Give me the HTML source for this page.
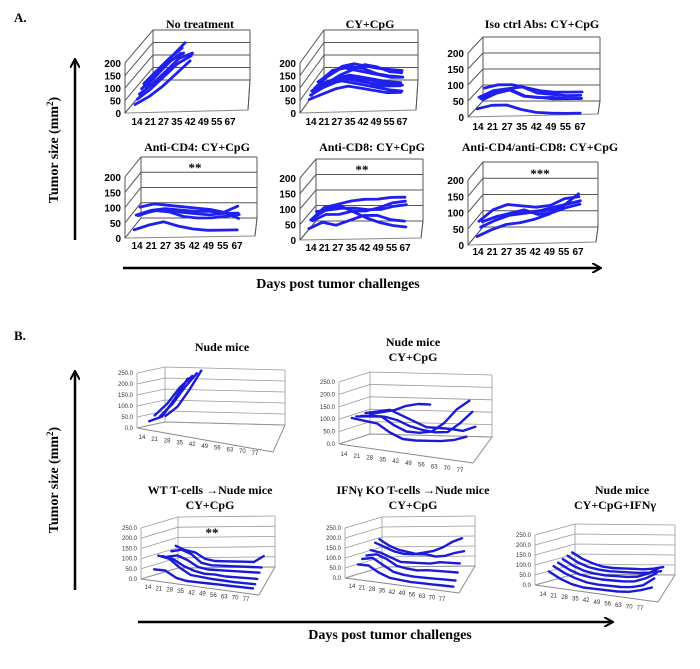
<!DOCTYPE html>
<html><head><meta charset="utf-8">
<style>
html,body{margin:0;padding:0;background:#fff;}
svg{display:block;}
.t{font-family:"Liberation Serif",serif;font-weight:bold;fill:#000;}
.ta{font-family:"Liberation Sans",sans-serif;font-weight:bold;fill:#000;font-size:10px;}
.tb{font-family:"Liberation Sans",sans-serif;fill:#333;font-size:6px;}
</style></head>
<body>
<svg id="fig" width="700" height="669" viewBox="0 0 700 669" xmlns="http://www.w3.org/2000/svg">
<defs><marker id="arr" markerWidth="10" markerHeight="10" refX="8" refY="5" orient="auto" markerUnits="userSpaceOnUse"><path d="M0,0 L9,5 L0,10" fill="none" stroke="#000" stroke-width="2"/></marker></defs>
<text class="t" x="14" y="22" font-size="13">A.</text>
<text class="t" x="14" y="340" font-size="13">B.</text>
<line x1="75" y1="240" x2="75" y2="60" stroke="#000" stroke-width="2.5" marker-end="url(#arr)"/>
<text class="t" font-size="14" transform="translate(58,150) rotate(-90)" text-anchor="middle">Tumor  size (mm<tspan font-size="9" dy="-5">2</tspan><tspan dy="5">)</tspan></text>
<line x1="123" y1="268" x2="600" y2="268" stroke="#000" stroke-width="2.5" marker-end="url(#arr)"/>
<text class="t" x="338" y="288" font-size="14" text-anchor="middle">Days post tumor  challenges</text>
<line x1="75" y1="590" x2="75" y2="372" stroke="#000" stroke-width="2.5" marker-end="url(#arr)"/>
<text class="t" font-size="14" transform="translate(58,480) rotate(-90)" text-anchor="middle">Tumor  size (mm<tspan font-size="9" dy="-5">2</tspan><tspan dy="5">)</tspan></text>
<line x1="138" y1="622" x2="612" y2="622" stroke="#000" stroke-width="2.5" marker-end="url(#arr)"/>
<text class="t" x="390" y="639" font-size="14" text-anchor="middle">Days post tumor  challenges</text>
</svg>
<script>
// ---- data ----
const daysA = ["14","21","27","35","42","49","55","67"];
const ticksA = [0,50,100,150,200];
const daysB = ["14","21","28","35","42","49","56","63","70","77"];
const ticksB = ["0.0","50.0","100.0","150.0","200.0","250.0"];
const tickValsB = [0,50,100,150,200,250];

const noTreatment = [[20,50,90,140,190],[30,70,120,170,200],[40,80,130,180,200],[50,100,150,190],[60,110,160,200],[35,90,140,170],[45,95,150,200]];
const cyCpg = [[40,60,80,90,80,70,60,60],[50,80,100,110,100,90,80,80],[60,90,110,120,110,100,90,85],[45,70,90,100,90,70,50,40],[55,100,130,140,130,110,100,95],[40,70,100,120,140,130,110,105],[50,60,70,60,50,40,30,25],[60,90,120,130,120,110,105,100],[45,55,65,70,60,50,40,35],[50,90,100,90,80,70,60,60]];
const isoCtrl = [[20,30,30,15,5,2,0,0],[50,70,75,80,60,55,50,50],[40,60,65,45,40,40,35,35],[30,50,60,40,35,30,30,30],[60,70,70,60,50,45,45,45]];
const antiCd4 = [[20,35,45,30,20,15,15,15],[60,75,80,75,70,70,65,85],[50,65,70,60,55,50,55,55],[70,80,75,70,65,60,50,30],[40,50,45,30,25,25,30,35]];
const antiCd8 = [[30,50,40,55,70,70,55,50],[50,90,100,110,115,115,120,120],[40,60,60,70,70,80,95,100],[45,70,80,60,40,25,15,10],[55,60,65,65,60,60,70,75]];
const antiCd4Cd8 = [[20,40,55,60,70,85,110,145],[60,95,110,105,100,105,125,130],[35,55,70,75,80,85,100,110],[45,60,70,80,65,70,85,95],[40,55,60,65,70,80,90,100]];

const nude = [[30,60,150,250],[50,110,190,250],[40,100,180,250],[35,80,160,250]];
const nudeCy = [[100,95,90,60,40,40,45,50,60,80],[100,105,110,80,60,60,70,110,170,210],[95,100,100,90,70,60,55,60,100,150],[100,110,120,100,80,60,60,60,55,75],[90,100,110,130,140,140]];
const wtT = [[40,40,10,0,0,0,0,0,0,0],[100,90,50,20,15,10,8,5,5,5],[90,80,50,30,20,20,15,15,15,15],[80,90,70,40,30,30,30,30,30,30],[100,110,90,50,40,40,40,40,40,40],[120,100,90,60,50,50,50,50,50,80]];
const koT = [[60,60,30,10,5,0,0,0,0,0],[80,90,60,30,20,15,15,15,15,15],[90,100,80,50,40,35,40,40,40,40],[110,100,80,60,60,60,60,70,70,70],[140,120,100,90,90,100,110,130,160,180],[150,120,100,90,80,80,70,75,90,100]];
const nudeIfn = [[60,30,10,0,0,0,0,5,20,40],[80,50,30,15,10,10,10,15,30,70],[90,60,40,30,25,25,25,30,50,80],[100,70,50,40,35,35,35,40,60,90],[110,80,60,50,45,45,45,45,50,60],[120,90,70,55,50,50,50,50,55,65]];

const svg = document.getElementById('fig');
const NS = 'http://www.w3.org/2000/svg';
function mk(tag, attrs, parent){
  const e = document.createElementNS(NS, tag);
  for (const k in attrs) e.setAttribute(k, attrs[k]);
  (parent||svg).appendChild(e);
  return e;
}
function txt(x,y,s,cls,anchor,size,parent){
  const e = mk('text',{x:x,y:y,class:cls,'text-anchor':anchor||'middle'},parent);
  if(size) e.setAttribute('font-size',size);
  e.textContent = s;
  return e;
}
const pt = p => p[0].toFixed(1)+','+p[1].toFixed(1);
const lerp=(a,b,t)=>[a[0]+(b[0]-a[0])*t,a[1]+(b[1]-a[1])*t];

function panel(c, series, days, tickVals, tickLabels, name, opts){
  const g = mk('g',{});
  
  
  const top = tickVals[tickVals.length-1];
  const up = (p,v)=>[p[0],p[1]-v*c.sc];
  const wall = mk('path',{d:'M'+pt(c.F0)+' L'+pt(c.B0)+' L'+pt(c.R0)+' L'+pt(c.FR)+' Z',fill:'#fff',stroke:'#888','stroke-width':1},g);
  
  
  const gm = c.gridMax||top;
  const gv = tickVals.concat(gm>top?[gm]:[]);
  gv.forEach((v,i)=>{
    const gl = mk('polyline',{points:pt(up(c.F0,v))+' '+pt(up(c.B0,v))+' '+pt(up(c.R0,v)),fill:'none',stroke:opts.grid,'stroke-width':opts.gw},g);
    
    
  });
  const ax = mk('line',{x1:c.F0[0],y1:c.F0[1],x2:c.F0[0],y2:up(c.F0,gm)[1],stroke:opts.grid,'stroke-width':opts.gw},g);
  
  
  const bl = mk('line',{x1:c.B0[0],y1:c.B0[1],x2:c.B0[0],y2:up(c.B0,gm)[1],stroke:opts.grid,'stroke-width':opts.gw},g);
  
  
  const rr = mk('polyline',{points:pt(up(c.R0,gm))+' '+pt(c.R0)+' '+pt(c.FR),fill:'none',stroke:opts.grid,'stroke-width':opts.gw},g);
  
  
  tickVals.forEach((v,i)=>{
    const p = up(c.F0,v);
    const tl = txt(p[0]-4,p[1]+opts.ty,tickLabels[i],opts.cls,'end',null,g);
    
    
  });
  const n = days.length;
  days.forEach((d,i)=>{
    const p = lerp(c.L0,c.L1,i/(n-1));
    const xl = txt(p[0],p[1],d,opts.cls,'middle',null,g);
    
    
  });
  const m = series.length;
  series.forEach((s,k)=>{
    const d = c.d0 + (c.d1-c.d0)*(m>1?k/(m-1):0);
    const pts = s.map((v,i)=>{
      const t = c.t0 + (c.t1-c.t0)*i/(n-1);
      const base = lerp(lerp(c.F0,c.FR,t), lerp(c.B0,c.R0,t), d);
      return up(base, Math.min(v,top));
    });
    const pl = mk('polyline',{points:pts.map(pt).join(' '),fill:'none',stroke:opts.line,'stroke-width':opts.lw,'stroke-linejoin':'round','stroke-linecap':'round'},g);
    
    
  });
}
const optA = {grid:'#555',gw:1,cls:'ta',ty:4,line:'#1f1ff0',lw:2.8};
const optB = {grid:'#999',gw:0.8,cls:'tb',ty:2,line:'#1a1ad8',lw:2.4};

function A(fx,fy0,fy200,dx,dy,rx,frx,fry,lab0,lab1){
  const sc=(fy0-fy200)/200;
  return {F0:[fx,fy0],FR:[frx,fry],B0:[fx+dx,fy0+dy],R0:[rx,fy0+dy],sc:sc,L0:lab0,L1:lab1,t0:0.06,t1:0.86,d0:0.1,d1:0.6};
}
panel(A(125,113,63,28,-33,250,248,110,[137,125],[230,125]), noTreatment, daysA, ticksA, ticksA.map(String), 'chart-no-treatment', optA);
panel(A(300,113,63,24,-33,418,416,110,[311,125],[402,125]), cyCpg, daysA, ticksA, ticksA.map(String), 'chart-cy-cpg', optA);
panel(A(468,117,53,15,-16,600,598,114,[478,130],[580,130]), isoCtrl, daysA, ticksA, ticksA.map(String), 'chart-iso-ctrl', optA);
panel(A(125,238,177,16,-20,257,255,236,[137,249],[237,249]), antiCd4, daysA, ticksA, ticksA.map(String), 'chart-anti-cd4', optA);
panel(A(300,240,178,16,-19,423,421,238,[311,251],[405,251]), antiCd8, daysA, ticksA, ticksA.map(String), 'chart-anti-cd8', optA);
panel(A(468,245,180,15,-18,598,596,242,[478,255],[578,255]), antiCd4Cd8, daysA, ticksA, ticksA.map(String), 'chart-anti-cd4-cd8', optA);

function B(F0,y250,B0,R0,FR,L0,L1){
  return {F0:F0,FR:FR,B0:B0,R0:R0,sc:(F0[1]-y250)/250,L0:L0,L1:L1,t0:0.05,t1:0.92,d0:0.2,d1:0.8};
}
panel(B([137,428],373,[165,422],[285,425],[273,452],[142,439],[255,455]), nude, daysB, tickValsB, ticksB, 'chart-nude-mice', optB);
panel(B([339,444],382,[370,434],[492,437],[473,463],[344,456],[460,472]), nudeCy, daysB, tickValsB, ticksB, 'chart-nude-cy-cpg', optB);
panel(B([141,579],528,[178,568],[275,567],[259,595],[148,589],[246,601]), wtT, daysB, tickValsB, ticksB, 'chart-wt-tcells', optB);
panel(B([345,578],528,[382,567],[475,566],[459,593],[352,588],[442,601]), koT, daysB, tickValsB, ticksB, 'chart-ifng-ko-tcells', optB);
panel(B([535,585],535,[575,574],[675,575],[658,602],[543,596],[640,610]), nudeIfn, daysB, tickValsB, ticksB, 'chart-nude-ifng', optB);

const titles = [
 ['No treatment',200,28],['CY+CpG',370,28],['Iso ctrl Abs:  CY+CpG',542,28],
 ['Anti-CD4:  CY+CpG',197,151],['Anti-CD8:  CY+CpG',372,151],['Anti-CD4/anti-CD8:  CY+CpG',540,151],
 ['Nude mice',222,351],['Nude mice',413,346],['CY+CpG',413,361],
 ['WT T-cells \u2192Nude mice',210,494],['CY+CpG',210,509],
 ['IFN\u03b3  KO T-cells \u2192Nude mice',413,494],['CY+CpG',413,509],
 ['Nude mice',622,494],['CY+CpG+IFN\u03b3',615,509]
];
titles.forEach(t=>{
  const e = txt(t[1],t[2],t[0],'t','middle',12);
  
  
});
const stars = [['**',195,172],['**',362,174],['***',540,178],['**',212,537]];
stars.forEach(s=>{
  const e = txt(s[1],s[2],s[0],'t','middle',13);
  
  
});
</script>
</body></html>
